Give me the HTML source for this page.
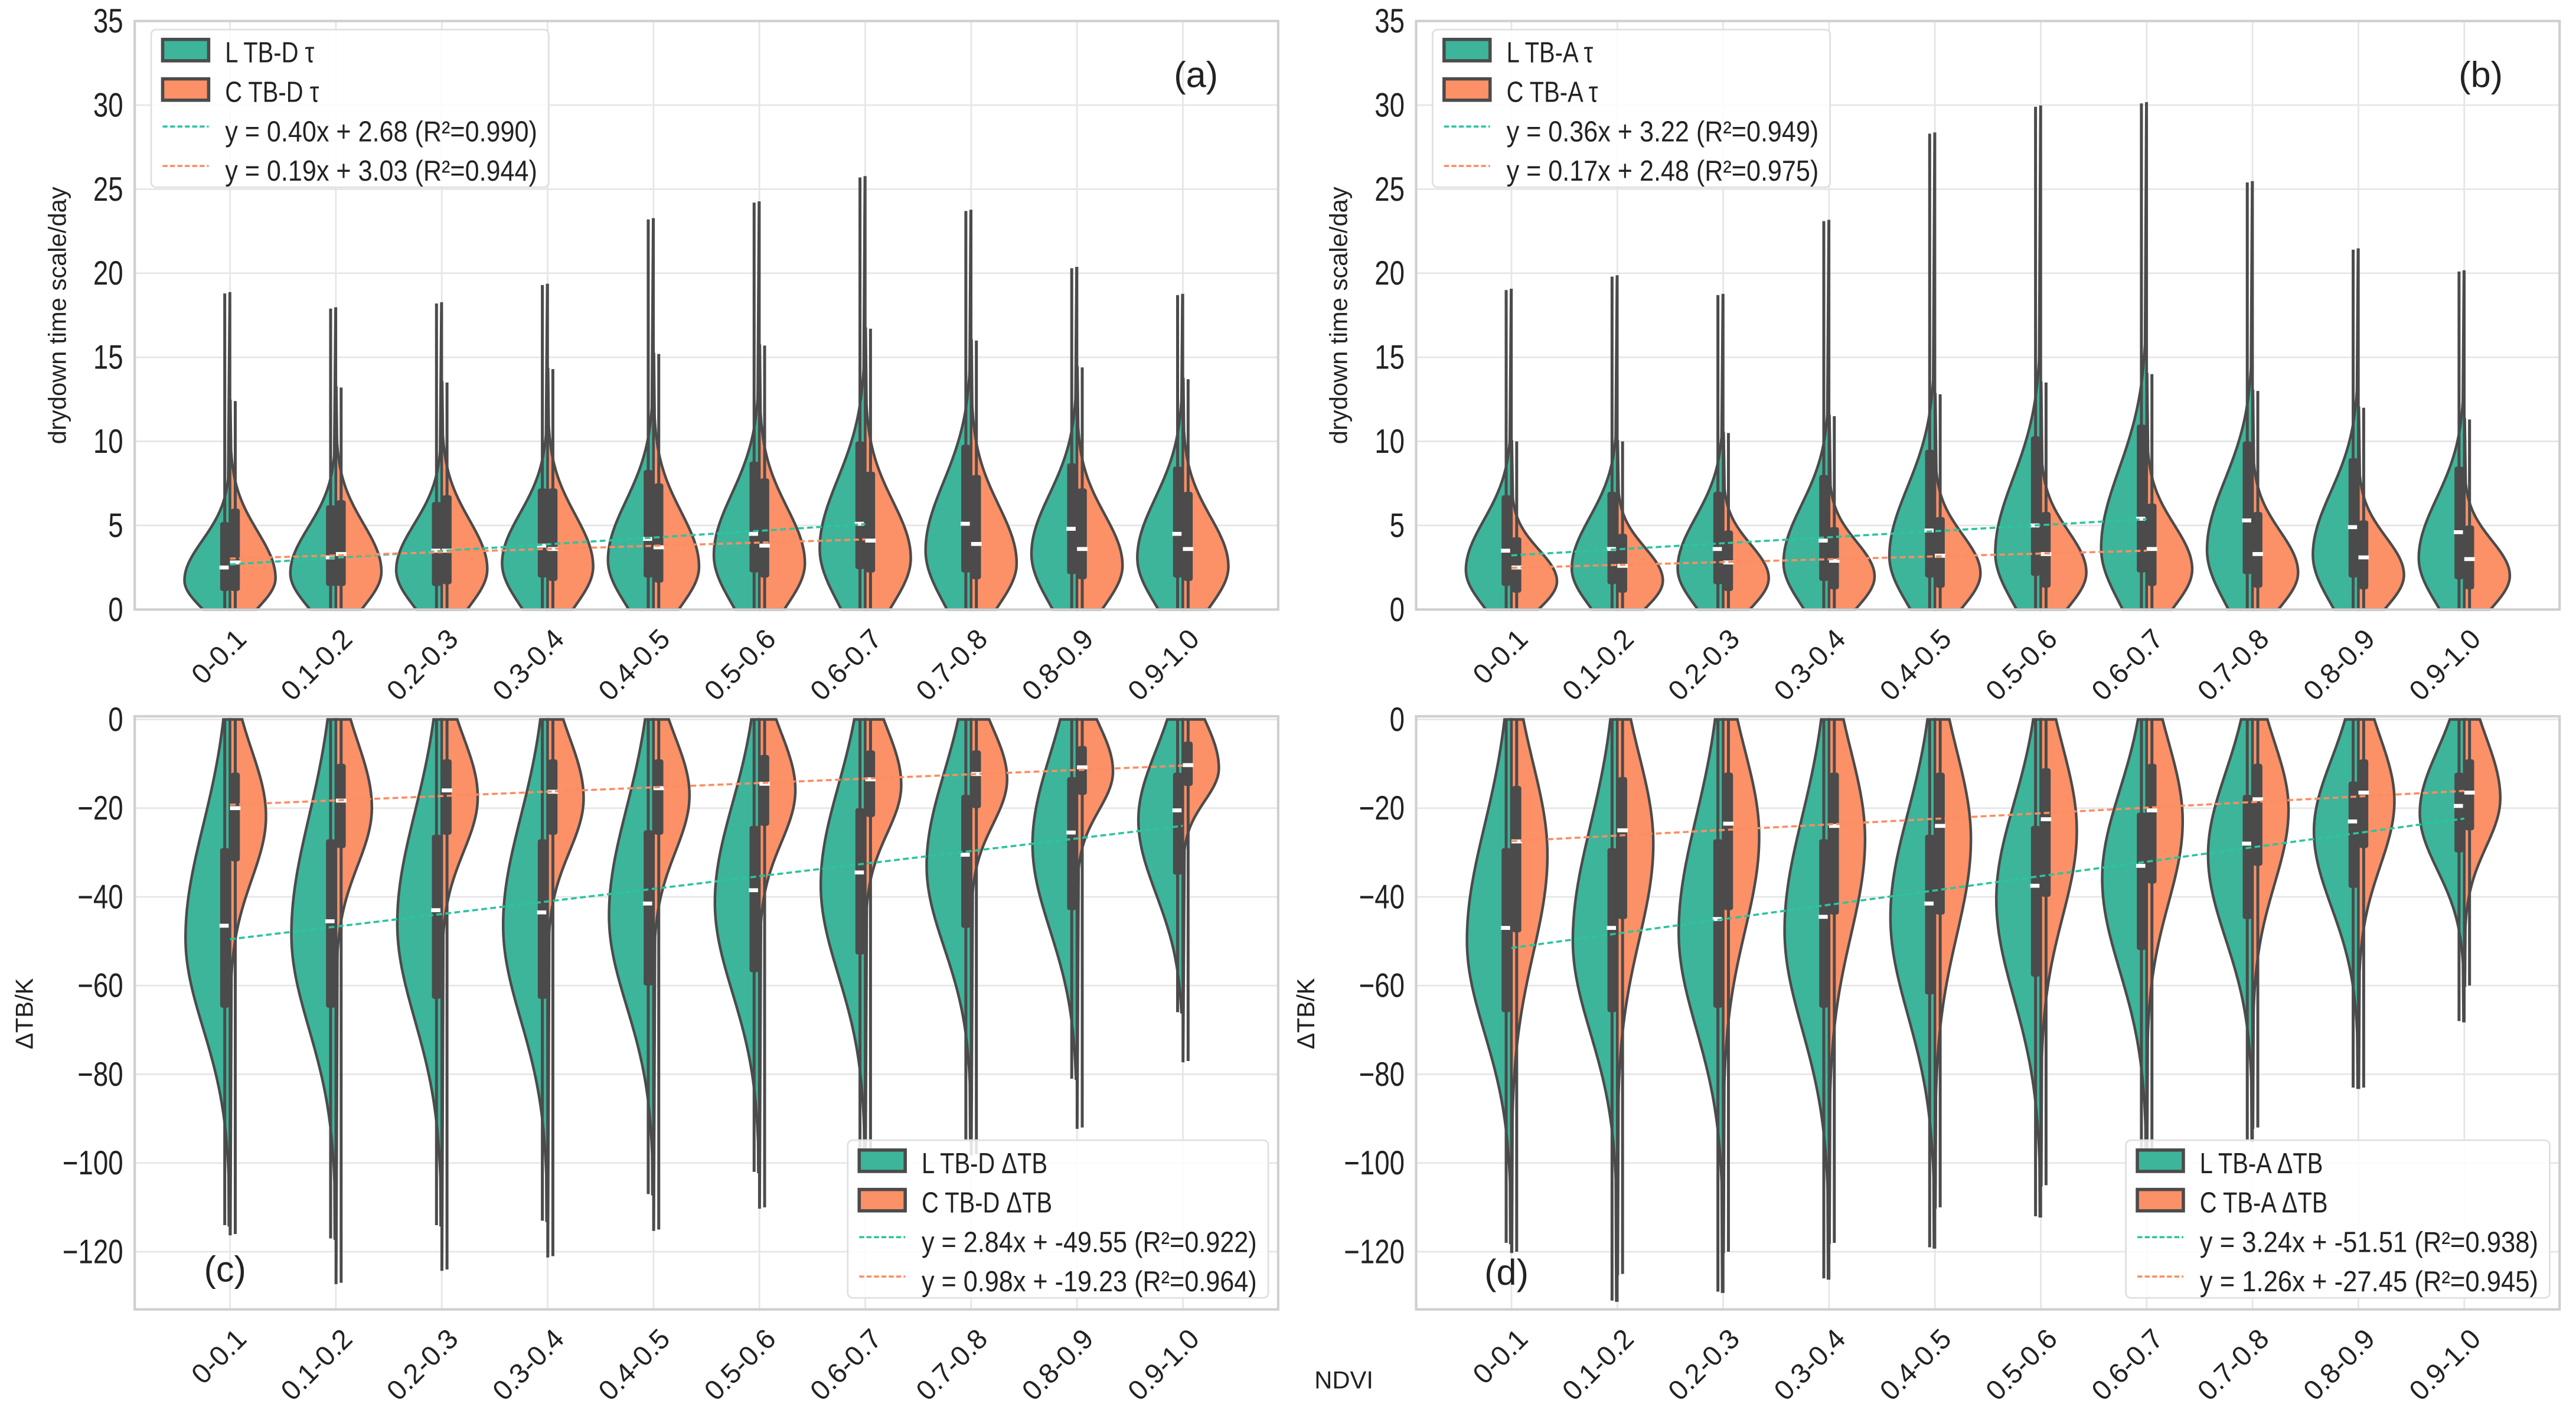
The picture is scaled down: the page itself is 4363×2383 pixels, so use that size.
<!DOCTYPE html>
<html><head><meta charset="utf-8">
<style>
html,body{margin:0;padding:0;background:#fff;}
svg{display:block;font-family:"Liberation Sans",sans-serif;}
</style></head>
<body>
<svg id="fig" width="4363" height="2383" viewBox="0 0 1568 856.4" preserveAspectRatio="none" xmlns="http://www.w3.org/2000/svg"></svg>
<script>
const categories = ["0-0.1","0.1-0.2","0.2-0.3","0.3-0.4","0.4-0.5","0.5-0.6","0.6-0.7","0.7-0.8","0.8-0.9","0.9-1.0"];
// Panel a
const aLMed = [2.5,3.1,3.5,3.8,4.2,4.5,5.1,5.1,4.8,4.5];
const aCMed = [2.8,3.3,3.5,3.6,3.7,3.8,4.1,3.9,3.6,3.6];
const aLQ1 = [1.1,1.4,1.4,1.9,1.9,2.2,2.4,2.2,2.1,1.9];
const aLQ3 = [5.2,6.2,6.4,7.2,8.3,8.8,10.0,9.8,8.7,8.5];
const aCQ1 = [1.1,1.4,1.5,1.7,1.6,1.9,2.2,1.8,1.8,1.7];
const aCQ3 = [6.0,6.5,6.8,7.2,7.5,7.8,8.2,8.0,7.2,7.0];
const aLTail = [18.8,17.9,18.2,19.3,23.2,24.2,25.7,23.7,20.3,18.7];
const aCTail = [12.4,13.2,13.5,14.3,15.2,15.7,16.7,16.0,14.4,13.7];
// Panel b
const bLMed = [3.5,3.6,3.6,4.1,4.7,5.0,5.4,5.3,4.9,4.6];
const bCMed = [2.5,2.6,2.8,2.9,3.2,3.3,3.6,3.3,3.1,3.0];
const bLQ1 = [1.4,1.5,1.5,1.7,1.9,2.0,2.2,2.1,1.9,1.8];
const bLQ3 = [6.8,7.0,7.0,8.0,9.5,10.3,11.0,10.0,9.0,8.5];
const bCQ1 = [1.0,1.0,1.1,1.2,1.3,1.3,1.4,1.3,1.2,1.2];
const bCQ3 = [4.3,4.5,4.7,4.9,5.5,5.8,6.3,5.8,5.3,5.0];
const bLTail = [19.0,19.8,18.7,23.1,28.3,29.9,30.1,25.4,21.4,20.1];
const bCTail = [10.0,10.0,10.5,11.5,12.8,13.5,14.0,13.0,12.0,11.3];
// Panel c
const cLMed = [-46.5,-45.5,-43,-43.5,-41.5,-38.5,-34.5,-30.5,-25.5,-20.5];
const cCMed = [-20,-18.3,-16,-16.3,-15.5,-14.5,-13.5,-12.3,-10.8,-10.3];
const cLQ1 = [-65,-65,-63,-63,-60,-57,-53,-47,-43,-35];
const cLQ3 = [-29,-27,-26,-27,-25,-24,-20,-17,-13,-12];
const cCQ1 = [-32,-29,-26,-26,-26,-24,-22,-20,-17,-15];
const cCQ3 = [-12,-10,-9,-9,-9,-8,-7,-7,-6,-5];
const cLTail = [-114,-117,-114,-113,-107,-102,-98,-95,-81,-66];
const cCTail = [-116,-127,-124,-121,-115,-110,-100,-98,-92,-77];
// Panel d
const dLMed = [-47,-47,-45,-44.5,-41.5,-37.5,-33,-28,-23,-19.5];
const dCMed = [-27.5,-25,-23.5,-24,-24,-22.5,-20.5,-18,-16.5,-16.5];
const dLQ1 = [-66,-66,-65,-65,-62,-58,-52,-45,-38,-30];
const dLQ3 = [-29,-29,-27,-27,-26,-24,-21,-17,-14,-12];
const dCQ1 = [-48,-45,-43,-44,-44,-40,-37,-33,-29,-25];
const dCQ3 = [-15,-13,-12,-12,-12,-11,-10,-10,-9,-9];
const dLTail = [-118,-131,-129,-126,-119,-112,-101,-95,-83,-68];
const dCTail = [-120,-125,-120,-118,-110,-105,-98,-92,-83,-60];
// regressions [slope, intercept, lastIndex]
const regA = [[0.40,2.68,6],[0.19,3.03,6]];
const regB = [[0.36,3.22,6],[0.17,2.48,6]];
const regC = [[2.84,-49.55,9],[0.98,-19.23,9]];
const regD = [[3.24,-51.51,9],[1.26,-27.45,9]];
const ticksTop = [0,5,10,15,20,25,30,35];
const ticksBot = [0,-20,-40,-60,-80,-100,-120];

const GREEN="#3db59a", ORANGE="#fc9067", EDGE="#4b4b4b";
const svg=document.getElementById('fig');
const NS="http://www.w3.org/2000/svg";
function mk(tag,attrs,parent){const e=document.createElementNS(NS,tag);for(const k in attrs)e.setAttribute(k,attrs[k]);(parent||svg).appendChild(e);return e;}

function panel(cfg){
  const g=mk('g',{});
  
  
  const {x0,x1,yTop,yBot,ymin,ymax}=cfg;
  const sx=i=>x0+(i+0.9)*(x1-x0)/10.8;
  const sy=v=>yBot-(v-ymin)/(ymax-ymin)*(yBot-yTop);
  mk('rect',{x:x0,y:yTop,width:x1-x0,height:yBot-yTop,fill:'#fff'},g);
  cfg.ticks.forEach(t=>{
    const l=mk('line',{x1:x0,x2:x1,y1:sy(t),y2:sy(t),stroke:'#e6e6e6','stroke-width':1},g);
    
    
    const tx=mk('text',{x:x0-7,y:sy(t)+7,'text-anchor':'end','font-size':20.5,fill:'#222',transform:`translate(${x0-7} 0) scale(0.8 1) translate(${-(x0-7)} 0)`},g);
    tx.textContent=(t<0?'\u2212'+(-t):t);
    
    
  });
  categories.forEach((c,i)=>{
    const l=mk('line',{x1:sx(i),x2:sx(i),y1:yTop,y2:yBot,stroke:'#e6e6e6','stroke-width':1},g);
    
    
  });
  const W=(x1-x0)/10.8;
  function half(i,side,med,q1,q3,tail,fill,wmax,lowTailMode){
    let lo,hi,mode,sdL,sdH;
    if(!lowTailMode){
      lo=0;hi=tail;mode=q1+(med-q1)*0.45;sdL=mode*0.8+0.3;sdH=(q3-mode)*0.6+0.3;
    } else {
      lo=tail;hi=0;mode=med+(q1-med)*0.15;sdH=Math.max(q3-mode,0)*1.0+5;sdL=(mode-q1)*1.1+3;
    }
    const N=120,pts=[];
    for(let k=0;k<=N;k++){
      const v=lo+(hi-lo)*k/N;
      const sd=v<mode?sdL:sdH;
      let w=Math.exp(-0.5*((v-mode)/sd)**2);
      w=Math.max(w,0.06*(1-Math.abs(v-mode)/Math.abs(hi-lo)));
      pts.push([sx(i)+side*w*wmax,sy(v)]);
    }
    let d=`M${sx(i)},${sy(lo)}`;
    pts.forEach(p=>d+=`L${p[0].toFixed(2)},${p[1].toFixed(2)}`);
    d+=`L${sx(i)},${sy(hi)}Z`;
    const p=mk('path',{d,fill,stroke:EDGE,'stroke-width':1.6},g);
    
    
    const bx=sx(i)+side*3.2;
    const wl=mk('line',{x1:bx,x2:bx,y1:sy(lowTailMode?tail:0),y2:sy(lowTailMode?0:tail),stroke:EDGE,'stroke-width':1.8},g);
    
    
    const br=mk('rect',{x:bx-2.8,y:sy(q3),width:5.6,height:sy(q1)-sy(q3),fill:EDGE,rx:1.5},g);
    
    
    const m=mk('rect',{x:bx-3.2,y:sy(med)-1.2,width:6.4,height:2.4,fill:'#fff'},g);
    
    
  }
  categories.forEach((c,i)=>{
    half(i,-1,cfg.LMed[i],cfg.LQ1[i],cfg.LQ3[i],cfg.LTail[i],GREEN,cfg.wL*W,cfg.neg);
    half(i,1,cfg.CMed[i],cfg.CQ1[i],cfg.CQ3[i],cfg.CTail[i],ORANGE,cfg.wC*W,cfg.neg);
  });
  cfg.reg.forEach((r,j)=>{
    const l=mk('line',{x1:sx(0),y1:sy(r[1]),x2:sx(r[2]),y2:sy(r[0]*r[2]+r[1]),stroke:j?'#fc8d62':'#2cc49e','stroke-width':1.3,'stroke-dasharray':'3.5 2'},g);
    
    
  });
  mk('rect',{x:x0,y:yTop,width:x1-x0,height:yBot-yTop,fill:'none',stroke:'#cfcfcf','stroke-width':1.5},g);
  categories.forEach((c,i)=>{
    const ax=sx(i)+11, ay=yBot+19;
    const t=mk('text',{x:ax,y:ay,'text-anchor':'end','font-size':17,fill:'#222',transform:`rotate(-45 ${ax} ${ay})`},g);
    t.textContent=c;
    
    
  });
  const L=cfg.leg;
  const lg=mk('g',{},g);
  
  
  mk('rect',{x:L.x,y:L.y,width:L.w,height:96,rx:3,fill:'#fff','fill-opacity':0.85,stroke:'#e0e0e0','stroke-width':1},lg);
  [GREEN,ORANGE].forEach((col,k)=>{
    const r=mk('rect',{x:L.x+7,y:L.y+6+k*24,width:28,height:13,fill:col,stroke:EDGE,'stroke-width':2},lg);
    
    
  });
  ['#2cc49e','#fc8d62'].forEach((col,k)=>{
    const l=mk('line',{x1:L.x+7,x2:L.x+35,y1:L.y+59+k*24,y2:L.y+59+k*24,stroke:col,'stroke-width':1.3,'stroke-dasharray':'3 1.5'},lg);
    
    
  });
  cfg.labels.forEach((s,k)=>{
    const t=mk('text',{x:L.x+45,y:L.y+20+k*24,'font-size':17.5,fill:'#222'},lg);
    t.textContent=s;
    if(k>=2){t.setAttribute('textLength',L.w-52);t.setAttribute('lengthAdjust','spacingAndGlyphs');}
    else{t.setAttribute('transform',`translate(${L.x+45} 0) scale(0.82 1) translate(${-(L.x+45)} 0)`);}
    
    
  });
  const pl=mk('text',{x:cfg.pl[0],y:cfg.pl[1],'font-size':22,fill:'#222','text-anchor':'middle'},g);
  pl.textContent=cfg.plText;
  
  
  const yt=mk('text',{x:cfg.yt[0],y:cfg.yt[1],'font-size':15,fill:'#222','text-anchor':'middle',transform:`rotate(-90 ${cfg.yt[0]} ${cfg.yt[1]})`},g);
  yt.textContent=cfg.ytText;
  
  
}
const topY={yTop:12.8,yBot:371,ymin:0,ymax:35,ticks:ticksTop,neg:false,wL:0.43,wC:0.43};
const botY={yTop:436,yBot:797,ymin:-133,ymax:0.7,ticks:ticksBot,neg:true,wL:0.42,wC:0.34};
panel(Object.assign({name:'panel-a',x0:82,x1:778,LMed:aLMed,CMed:aCMed,LQ1:aLQ1,LQ3:aLQ3,CQ1:aCQ1,CQ3:aCQ3,LTail:aLTail,CTail:aCTail,reg:regA,
  leg:{x:92,y:18,w:242},labels:['L TB-D \u03c4','C TB-D \u03c4','y = 0.40x + 2.68 (R\u00b2=0.990)','y = 0.19x + 3.03 (R\u00b2=0.944)'],
  pl:[728,53],plText:'(a)',yt:[40,192],ytText:'drydown time scale/day'},topY));
panel(Object.assign({name:'panel-b',x0:862,x1:1558,LMed:bLMed,CMed:bCMed,LQ1:bLQ1,LQ3:bLQ3,CQ1:bCQ1,CQ3:bCQ3,LTail:bLTail,CTail:bCTail,reg:regB,
  leg:{x:872,y:18,w:242},labels:['L TB-A \u03c4','C TB-A \u03c4','y = 0.36x + 3.22 (R\u00b2=0.949)','y = 0.17x + 2.48 (R\u00b2=0.975)'],
  pl:[1510,53],plText:'(b)',yt:[820,192],ytText:'drydown time scale/day'},topY));
panel(Object.assign({name:'panel-c',x0:82,x1:778,LMed:cLMed,CMed:cCMed,LQ1:cLQ1,LQ3:cLQ3,CQ1:cCQ1,CQ3:cCQ3,LTail:cLTail,CTail:cCTail,reg:regC,
  leg:{x:516,y:694,w:256},labels:['L TB-D \u0394TB','C TB-D \u0394TB','y = 2.84x + -49.55 (R\u00b2=0.922)','y = 0.98x + -19.23 (R\u00b2=0.964)'],
  pl:[137,780],plText:'(c)',yt:[20,617],ytText:'\u0394TB/K'},botY));
panel(Object.assign({name:'panel-d',x0:862,x1:1558,LMed:dLMed,CMed:dCMed,LQ1:dLQ1,LQ3:dLQ3,CQ1:dCQ1,CQ3:dCQ3,LTail:dLTail,CTail:dCTail,reg:regD,
  leg:{x:1294,y:694,w:258},labels:['L TB-A \u0394TB','C TB-A \u0394TB','y = 3.24x + -51.51 (R\u00b2=0.938)','y = 1.26x + -27.45 (R\u00b2=0.945)'],
  pl:[917,782],plText:'(d)',yt:[800,617],ytText:'\u0394TB/K'},botY));
const nd=mk('text',{x:818,y:845,'font-size':15,'text-anchor':'middle',fill:'#222'});
nd.textContent='NDVI';


</script>
</body></html>
